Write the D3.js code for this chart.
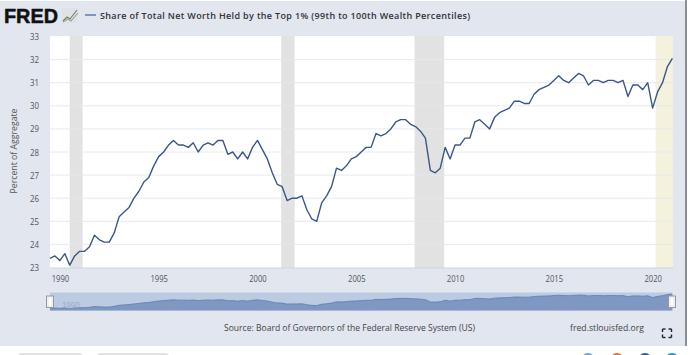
<!DOCTYPE html>
<html><head><meta charset="utf-8">
<script src="https://cdn.jsdelivr.net/npm/d3@7/dist/d3.min.js"></script>
<style>html,body{margin:0;padding:0;background:#fff}svg{display:block}text{font-family:"Open Sans",sans-serif}</style>
</head><body><svg id="c" width="690" height="355"></svg>
<script>
const startYear = 1989.5;
const values = [23.4,23.5,23.3,23.6,23.1,23.5,23.7,23.7,23.9,24.4,24.2,24.1,24.1,24.5,25.2,25.4,25.6,26.0,26.3,26.7,26.9,27.4,27.8,28.0,28.3,28.5,28.3,28.3,28.2,28.4,28.0,28.3,28.4,28.3,28.5,28.5,27.9,28.0,27.7,28.0,27.7,28.2,28.5,28.1,27.7,27.1,26.6,26.5,25.9,26.0,26.0,26.1,25.5,25.1,25.0,25.8,26.1,26.5,27.3,27.2,27.4,27.7,27.8,28.0,28.2,28.2,28.8,28.7,28.8,29.0,29.3,29.4,29.4,29.2,29.1,28.9,28.6,27.2,27.1,27.3,28.2,27.7,28.3,28.3,28.6,28.6,29.3,29.4,29.2,29.0,29.5,29.7,29.8,29.9,30.2,30.2,30.1,30.1,30.5,30.7,30.8,30.9,31.1,31.3,31.1,31.0,31.2,31.4,31.3,30.9,31.1,31.1,31.0,31.1,31.1,31.0,31.1,30.4,30.9,30.9,30.7,31.0,29.9,30.6,31.0,31.7,32.05];
const recessions = [[1990.5,1991.15],[2001.2,2001.88],[2007.95,2009.45]];
const projection = [[2020.15,2021.03]];
const yTicks = [23,24,25,26,27,28,29,30,31,32,33];
const xTicks = [1990,1995,2000,2005,2010,2015,2020];
const title = "Share of Total Net Worth Held by the Top 1% (99th to 100th Wealth Percentiles)";
const yLabel = "Percent of Aggregate";
const source = "Source: Board of Governors of the Federal Reserve System (US)";
const site = "fred.stlouisfed.org";

const data = values.map((v,i)=>({t:startYear+i/4,v}));
const svg = d3.select("#c");
const x = d3.scaleLinear().domain([1989.5,2021]).range([50,672.4]);
const y = d3.scaleLinear().domain([23,33]).range([267.5,36.5]);
const ny = d3.scaleLinear().domain([23,32.05]).range([308.8,294]);

// panel
svg.append("rect").attr("x",0).attr("y",1).attr("width",685).attr("height",345).attr("fill","#e1e6ef");
svg.append("rect").attr("x",685).attr("y",0).attr("width",2).attr("height",346).attr("fill","#8b8f96");
svg.append("rect").attr("x",50).attr("y",36).attr("width",623).attr("height",232).attr("fill","#fff");

// shading
svg.selectAll(".rec").data(recessions).join("rect")
  .attr("x",d=>x(d[0])).attr("width",d=>x(d[1])-x(d[0])).attr("y",36).attr("height",232).attr("fill","#e2e2e2");
svg.selectAll(".proj").data(projection).join("rect")
  .attr("x",d=>x(d[0])).attr("width",d=>x(d[1])-x(d[0])).attr("y",36).attr("height",232).attr("fill","#f4f2dc");

// grid
svg.selectAll(".grid").data(yTicks.slice(1,-1)).join("line")
  .attr("x1",50).attr("x2",673).attr("y1",d=>y(d)).attr("y2",d=>y(d))
  .attr("stroke","#e6e8ec").attr("stroke-width",1).attr("opacity",.9);
svg.append("line").attr("x1",50).attr("x2",673).attr("y1",268).attr("y2",268).attr("stroke","#cdd6e4");

// axes
const yAxis = svg.append("g").attr("transform","translate(50,0)").call(d3.axisLeft(y).tickValues(yTicks).tickSize(0).tickPadding(11).tickFormat(d3.format("d")));
yAxis.select(".domain").remove();
yAxis.selectAll("text").attr("font-size",9.5).attr("fill","#555").attr("textLength",9).attr("lengthAdjust","spacingAndGlyphs").style("font-family",'"Open Sans",sans-serif');
const xAxis = svg.append("g").attr("transform","translate(0,268)").call(d3.axisBottom(x).tickValues(xTicks).tickSize(0).tickPadding(7).tickFormat(d3.format("d")));
xAxis.select(".domain").remove();
xAxis.selectAll("text").attr("font-size",9.5).attr("fill","#555").attr("textLength",17.5).attr("lengthAdjust","spacingAndGlyphs").style("font-family",'"Open Sans",sans-serif');
xAxis.selectAll("line").attr("stroke","#cdd6e4");

svg.append("text").attr("transform","translate(17,151) rotate(-90)").attr("text-anchor","middle")
  .attr("font-size",9.5).attr("fill","#555").attr("textLength",85).attr("lengthAdjust","spacingAndGlyphs").text(yLabel);

// line
const line = d3.line().x(d=>x(d.t)).y(d=>y(d.v));
svg.append("path").datum(data).attr("d",line).attr("fill","none").attr("stroke","#3d5687").attr("stroke-width",1.4).attr("stroke-linejoin","round");

// navigator
svg.append("rect").attr("x",50).attr("y",292.5).attr("width",622).attr("height",18).attr("fill","#bccae2");
const area = d3.area().x(d=>x(d.t)).y0(310.5).y1(d=>ny(d.v));
svg.append("path").datum(data).attr("d",area).attr("fill","#7f97c3");
svg.append("path").datum(data).attr("d",d3.line().x(d=>x(d.t)).y(d=>ny(d.v))).attr("fill","none").attr("stroke","#5f7cb0").attr("stroke-width",.8);
svg.selectAll(".nt").data(xTicks).join("text").attr("x",d=>x(d)+2).attr("y",309)
  .attr("font-size",9).attr("fill","#8d9bb5").attr("opacity",.75).attr("textLength",18).attr("lengthAdjust","spacingAndGlyphs").text(d=>d);
[[50],[672]].forEach(([h])=>{
  svg.append("rect").attr("x",h-3.5).attr("y",296).attr("width",7).attr("height",11.5).attr("fill","#eef0f2").attr("stroke","#999").attr("stroke-width",1);
  svg.append("rect").attr("x",h-1).attr("y",298.5).attr("width",2).attr("height",6.5).attr("fill","#fff");
});

// header
svg.append("text").attr("x",4).attr("y",23).attr("font-size",21).attr("font-weight",700)
  .attr("fill","#111").attr("stroke","#111").attr("stroke-width",.5).style("font-family",'"Liberation Sans",sans-serif').attr("textLength",54).attr("lengthAdjust","spacingAndGlyphs").text("FRED");
const icon = svg.append("g");
icon.append("rect").attr("x",62).attr("y",8).attr("width",16).attr("height",15).attr("fill","#dfe3e6");
const logoA = [[63,21],[67,17],[70,19],[77,10]], logoB = [[63,22],[68,19],[71,21],[78,13]];
icon.append("path").attr("d",d3.line()(logoA)).attr("fill","none").attr("stroke","#6f7d6f").attr("stroke-width",1.1);
icon.append("path").attr("d",d3.line()(logoB)).attr("fill","none").attr("stroke","#93aa83").attr("stroke-width",1.1);
svg.append("line").attr("x1",85).attr("x2",96).attr("y1",15).attr("y2",15).attr("stroke","#5f7ba6").attr("stroke-width",1.5);
svg.append("text").attr("x",100).attr("y",19).attr("font-size",9).attr("font-weight",600)
  .attr("fill","#333").attr("textLength",370).attr("lengthAdjust","spacing").text(title);

// footer
svg.append("text").attr("x",224).attr("y",331).attr("font-size",9.2).attr("fill","#444").attr("textLength",251).attr("lengthAdjust","spacingAndGlyphs").text(source);
svg.append("text").attr("x",570).attr("y",331).attr("font-size",9.2).attr("fill","#444").attr("textLength",74).attr("lengthAdjust","spacingAndGlyphs").text(site);
const fs = [[662.5,329,3,0],[662.5,329,0,3],[671.5,329,-3,0],[671.5,329,0,3],[662.5,337.5,3,0],[662.5,337.5,0,-3],[671.5,337.5,-3,0],[671.5,337.5,0,-3]];
svg.selectAll(".fs").data(fs).join("line").attr("x1",d=>d[0]).attr("y1",d=>d[1]).attr("x2",d=>d[0]+d[2]).attr("y2",d=>d[1]+d[3]).attr("stroke","#222").attr("stroke-width",1.4);

// cropped page furniture below chart
const pills = [[17,67],[96,74]];
svg.selectAll(".pill").data(pills).join("rect").attr("x",d=>d[0]).attr("y",353).attr("width",d=>d[1]).attr("height",10).attr("rx",5).attr("fill","#e2e2e2");
const dots = [[588,"#6fa3d8"],[617,"#e2703a"],[645,"#3b5998"],[672,"#3f86c6"]];
svg.selectAll(".dot").data(dots).join("circle").attr("cx",d=>d[0]).attr("cy",360).attr("r",7).attr("fill",d=>d[1]);
</script></body></html>
